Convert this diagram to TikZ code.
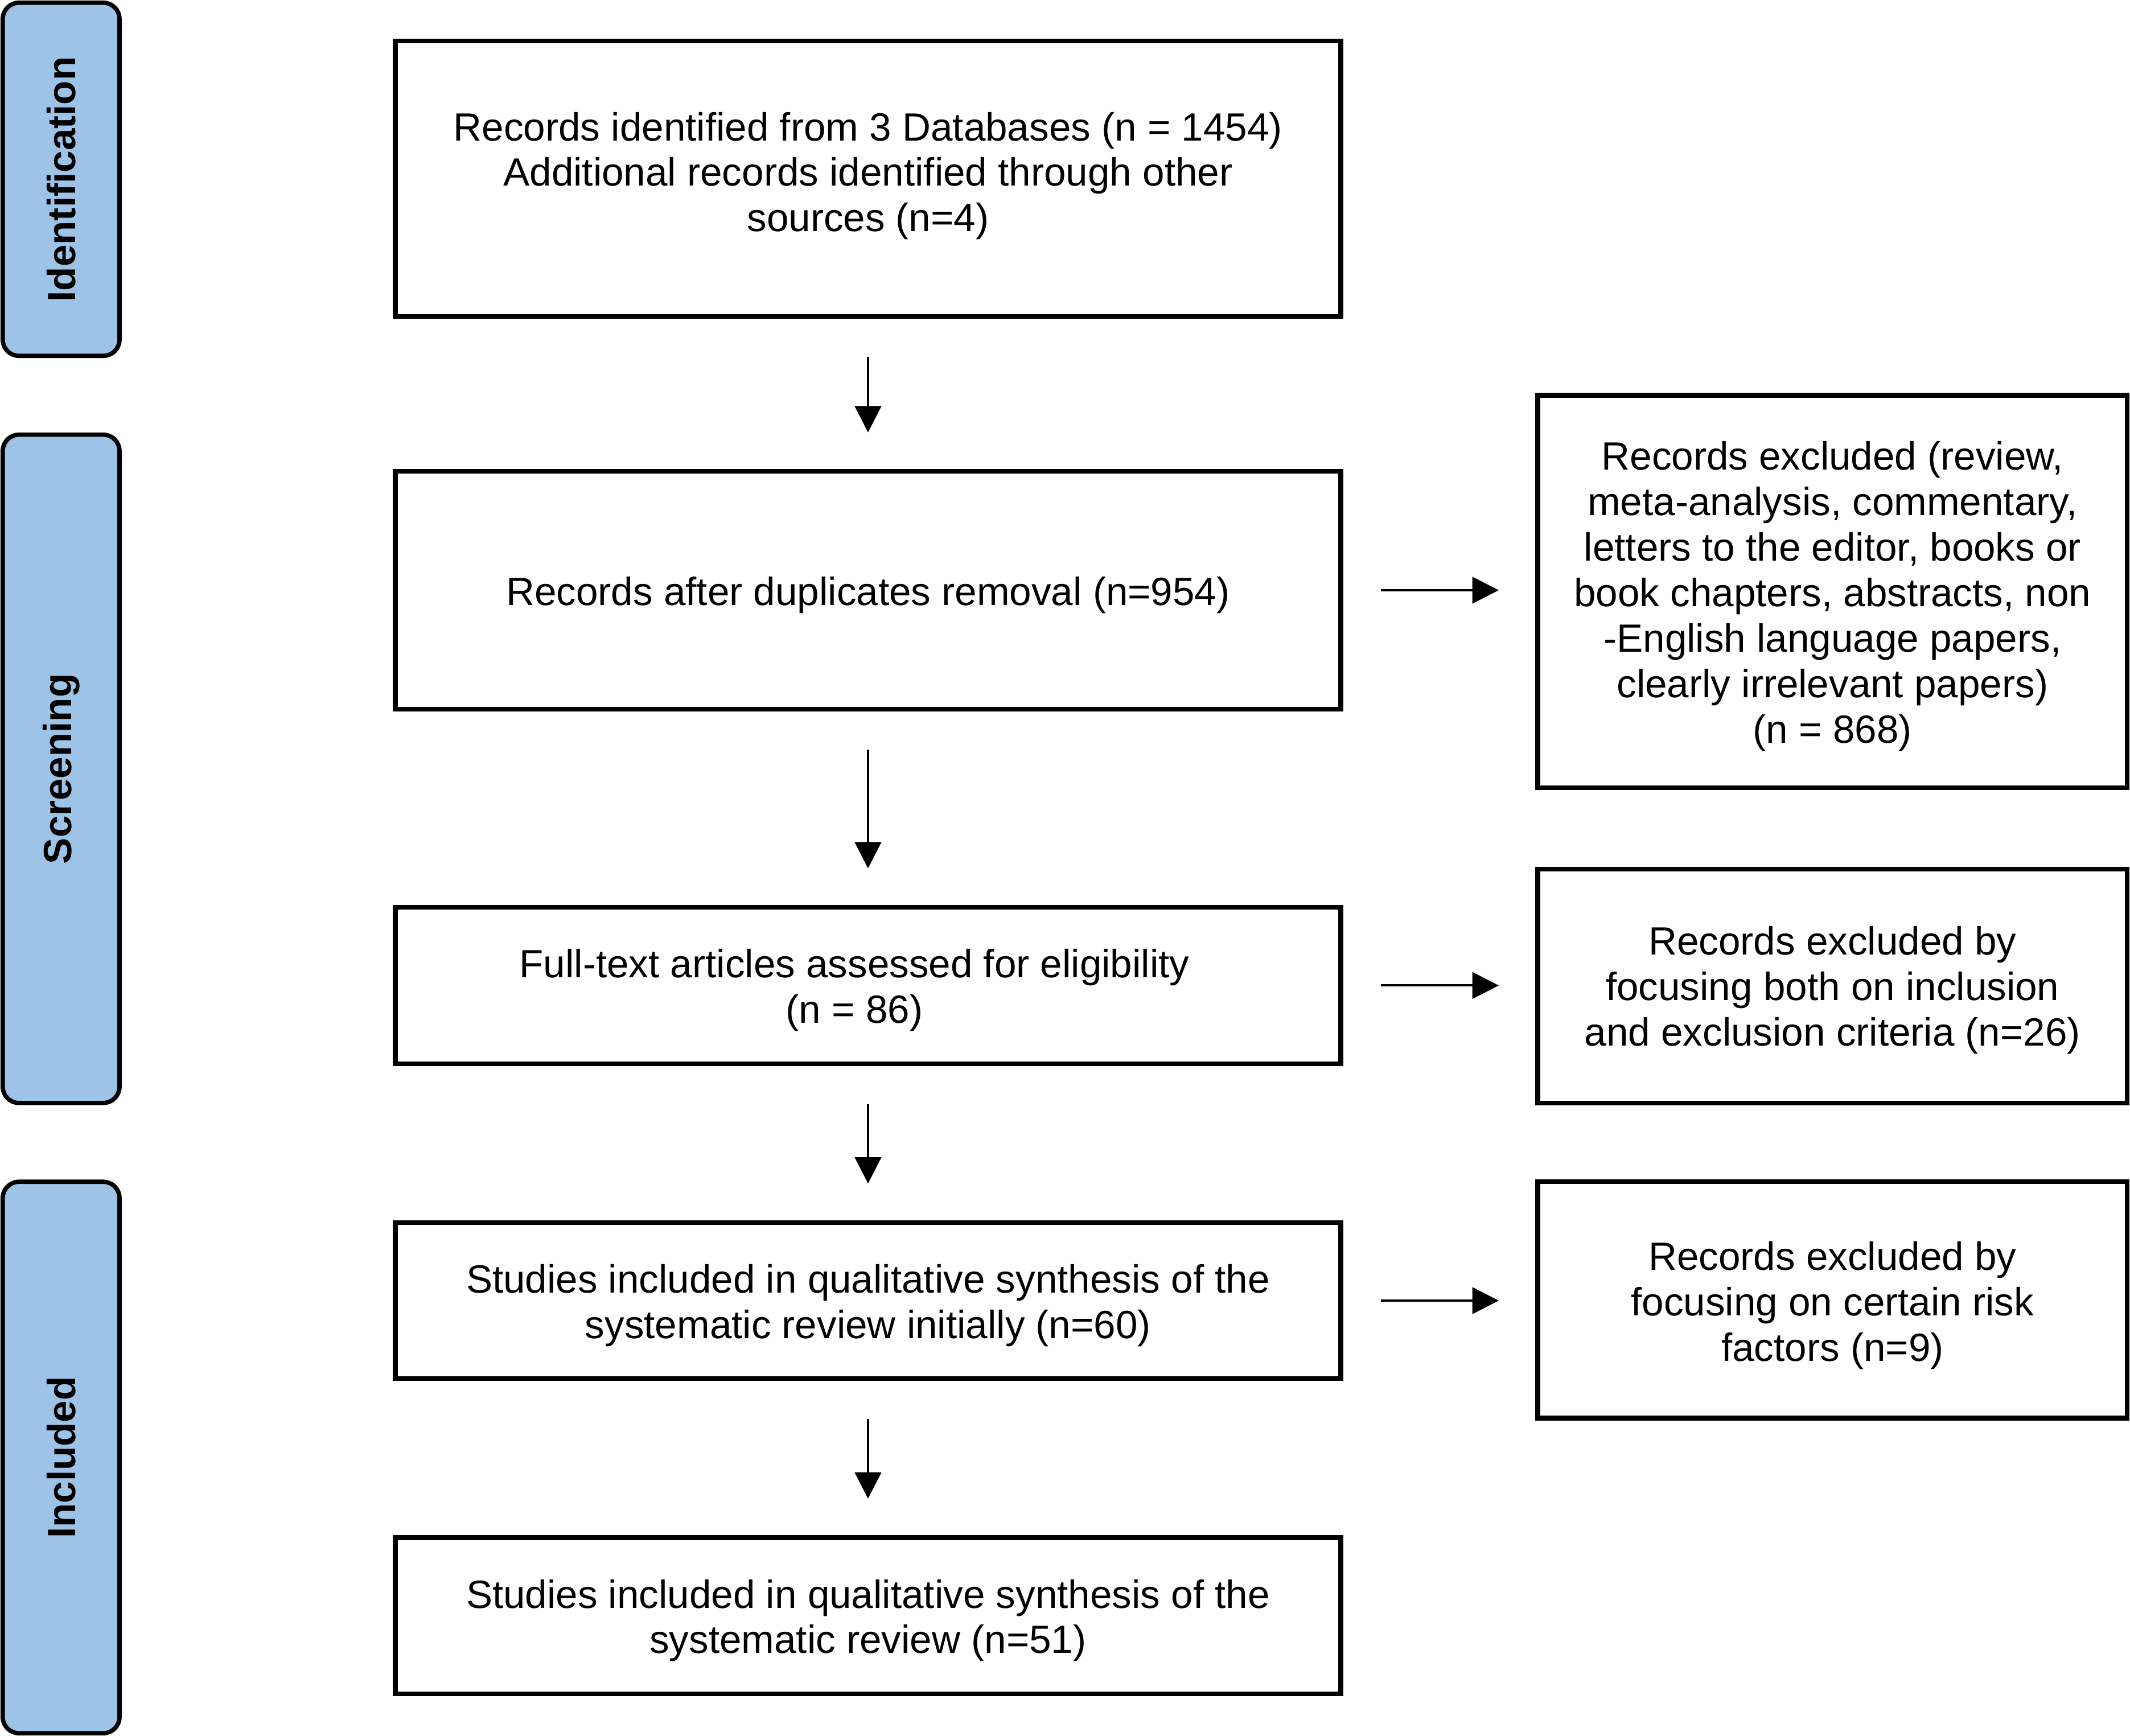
\documentclass[tikz,border=0pt]{standalone}
\usepackage{fontspec}
\setmainfont{Liberation Sans}
\usepackage{xcolor}
\usepackage{tikz}
\usetikzlibrary{arrows.meta}
\definecolor{stageblue}{HTML}{9DC3E6}
\tikzset{%
  every stage/.style={
    draw,
    fill=stageblue,
    line width=1.6pt,
    rounded corners=6pt,
    minimum height=43pt,
    rotate=90,
    font=\fontsize{14.5pt}{16.75pt}\selectfont\bfseries
  },
  every box/.style={
    draw,
    line width=1.7pt,
    inner sep=0pt
  },
  box text/.style={
    align=center,
    inner sep=0pt,
    font=\fontsize{14.5pt}{16.75pt}\selectfont
  },
  every flow/.style={
    line width=0.85pt,
    shorten <=14pt,
    shorten >=13.5pt
  },
}

\begin{document}
\begin{tikzpicture}[x=0.5pt, y=-0.5pt, >={Triangle[length=9.7pt,width=9.7pt]}]

    \useasboundingbox (0,0) rectangle (1568,1278);

    \foreach \n/\y/\h/\t in {ident/132/130/Identification,
        screen/566/246/Screening, incl/1073/203/Included}
    \node [every stage, minimum width=\h pt] (\n) at (45,\y) {\t};

    \foreach \n/\y/\h in {1/131.5/101.5, 2/434.5/87.5, 3/725.5/57.5,
        4/957.5/57.5, 5/1189.5/57.5}
    \node [every box, minimum width=348pt, minimum height=\h pt] (box-\n) at (639,\y) {};

    \foreach \n/\y/\h in {1/435.5/144.5, 2/726/86, 3/957/87}
    \node [every box, minimum width=217pt, minimum height=\h pt] (excl-\n) at (1349,\y) {};

    \node [box text] (box-1-text) at ([yshift=1pt]box-1)
        {Records identified from 3 Databases (n = 1454)\\
         Additional records identified through other\\
         sources (n=4)};
    \node [box text] (box-2-text) at ([yshift=-1.75pt]box-2)
        {Records after duplicates removal (n=954)};
    \node [box text] (box-3-text) at ([xshift=-5pt,yshift=-1.75pt]box-3)
        {Full-text articles assessed for eligibility\\ (n = 86)};
    \node [box text] (box-4-text) at ([yshift=-1.75pt]box-4)
        {Studies included in qualitative synthesis of the\\
         systematic review initially (n=60)};
    \node [box text] (box-5-text) at ([yshift=-1.75pt]box-5)
        {Studies included in qualitative synthesis of the\\
         systematic review (n=51)};

    \node [box text] (excl-1-text) at ([yshift=-1.75pt]excl-1)
        {Records excluded (review,\\
         meta-analysis, commentary,\\
         letters to the editor, books or\\
         book chapters, abstracts, non\\
         -English language papers,\\
         clearly irrelevant papers)\\
         (n = 868)};
    \node [box text] (excl-2-text) at ([yshift=-1.5pt]excl-2)
        {Records excluded by\\
         focusing both on inclusion\\
         and exclusion criteria (n=26)};
    \node [box text] (excl-3-text) at ([yshift=-2pt]excl-3)
        {Records excluded by\\
         focusing on certain risk\\
         factors (n=9)};

    \foreach \i [count=\j from 2] in {1,...,4}
        \draw [every flow, ->] (box-\i) -- (box-\j);

    \foreach \i [count=\j from 2] in {1,...,3}
        \draw [every flow, ->] (box-\j.east) -- (box-\j.east -| excl-\i.west);

\end{tikzpicture}
\end{document}
